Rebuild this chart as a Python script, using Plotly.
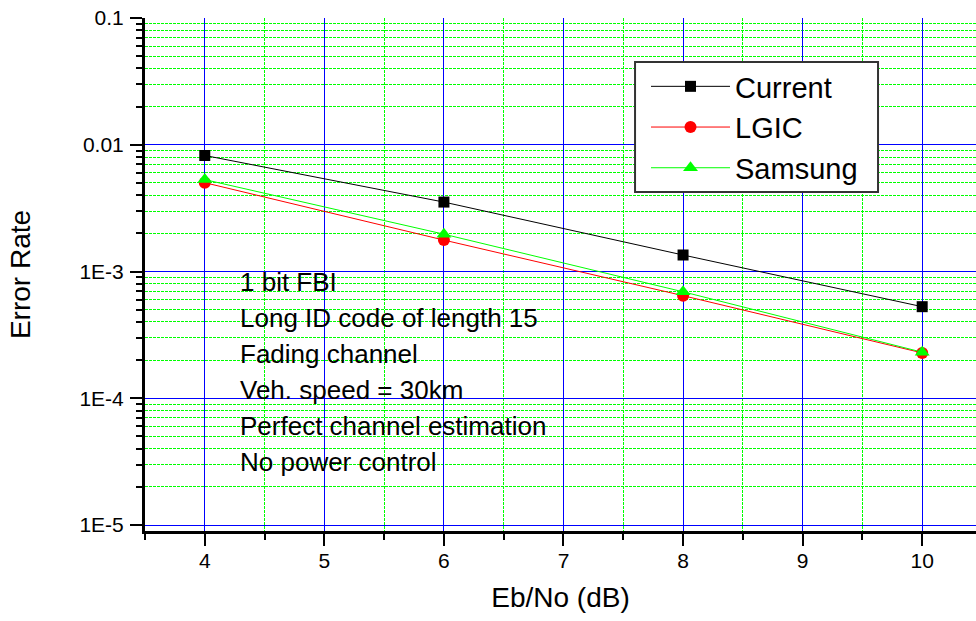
import plotly.graph_objects as go

# ---- data ----
eb_no = [4, 6, 8, 10]
current = [0.00823, 0.00353, 0.00135, 0.000528]
lgic = [0.00502, 0.00177, 0.000645, 0.000228]
samsung = [0.00531, 0.00197, 0.000692, 0.000231]

x_ticks = [4, 5, 6, 7, 8, 9, 10]
y_ticks = [1e-5, 1e-4, 1e-3, 1e-2, 1e-1]
y_ticktext = ["1E-5", "1E-4", "1E-3", "0.01", "0.1"]
note_lines = ["1 bit FBI", "Long ID code of length 15", "Fading channel",
              "Veh. speed = 30km", "Perfect channel estimation", "No power control"]

FONT = "Arial, Liberation Sans, sans-serif"
MINOR_DASH = "3px,1px"

y_minor = [m * 10.0 ** e for e in range(-5, -1) for m in range(2, 10)]
x_minor = [3.5 + i for i in range(7)]

fig = go.Figure()
fig.add_trace(go.Scatter(x=eb_no, y=current, name="Current", mode="lines+markers",
                         line=dict(color="black", width=1),
                         marker=dict(symbol="square", size=11, color="black")))
fig.add_trace(go.Scatter(x=eb_no, y=lgic, name="LGIC", mode="lines+markers",
                         line=dict(color="#ff0000", width=1),
                         marker=dict(symbol="circle", size=12, color="#ff0000")))
fig.add_trace(go.Scatter(x=eb_no, y=samsung, name="Samsung", mode="lines+markers",
                         line=dict(color="#00ff00", width=1),
                         marker=dict(symbol="triangle-up", size=13, color="#00ff00")))

common_x = dict(range=[3.5, 10.45], tickmode="array", tickvals=x_ticks,
                zeroline=False, showline=True, linecolor="black", linewidth=3,
                tickcolor="black", tickwidth=2, automargin=False)

fig.update_layout(
    width=976, height=621,
    margin=dict(l=145, r=0, t=18, b=90, autoexpand=False),
    paper_bgcolor="white", plot_bgcolor="white",
    font=dict(family=FONT, color="black"),
    xaxis=dict(**common_x, ticks="outside", ticklen=12,
               showgrid=True, gridcolor="#0000ff", gridwidth=1,
               tickfont=dict(size=21), ticklabelstandoff=-3,
               title=dict(text="Eb/No (dB)", font=dict(size=28), standoff=17),
               minor=dict(tickmode="array", tickvals=x_minor, ticks="outside", ticklen=6,
                          tickwidth=2, tickcolor="black",
                          showgrid=True, gridcolor="#00ff00", griddash=MINOR_DASH, gridwidth=1)),
    xaxis2=dict(**common_x, overlaying="x", side="top", anchor="y", matches="x",
                ticks="inside", ticklen=12, showgrid=False, showticklabels=False,
                minor=dict(tickmode="array", tickvals=x_minor, ticks="inside", ticklen=6,
                           tickwidth=2, tickcolor="black", showgrid=False)),
    yaxis=dict(type="log", range=[-5.047, -1], tickmode="array", tickvals=y_ticks,
               ticktext=y_ticktext, ticks="outside", ticklen=12, tickwidth=2, tickcolor="black",
               showline=True, linecolor="black", linewidth=3, zeroline=False,
               showgrid=True, gridcolor="#0000ff", gridwidth=1, automargin=False,
               tickfont=dict(size=21), ticklabelstandoff=2,
               title=dict(text="Error Rate", font=dict(size=28), standoff=41),
               minor=dict(tickmode="array", tickvals=y_minor, ticks="outside", ticklen=6,
                          tickwidth=2, tickcolor="black",
                          showgrid=True, gridcolor="#00ff00", griddash=MINOR_DASH, gridwidth=1)),
    yaxis2=dict(type="log", overlaying="y", side="right", anchor="x", matches="y",
                range=[-5.047, -1], tickmode="array", tickvals=y_ticks, automargin=False,
                ticks="inside", ticklen=6, tickwidth=2, tickcolor="black",
                showline=False, showgrid=False, showticklabels=False, zeroline=False),
    legend=dict(x=0.6029, y=0.9162, xanchor="left", yanchor="top",
                bgcolor="rgba(0,0,0,0)", borderwidth=0,
                font=dict(size=29, family=FONT), itemwidth=79, tracegroupgap=0),
    showlegend=True,
)

# legend frame
fig.add_shape(type="rect", xref="paper", yref="paper",
              x0=0.5897, x1=0.8821, y0=0.6608, y1=0.9142,
              line=dict(color="#333333", width=2), fillcolor="white", layer="above")

y0 = 0.482 + 2 / 513
step = 36 / 513
for i, line in enumerate(note_lines):
    fig.add_annotation(text=line, xref="paper", yref="paper", x=0.112, y=y0 - i * step,
                       xanchor="left", yanchor="middle", showarrow=False,
                       font=dict(size=26, family=FONT, color="black"))

fig.write_html("out.html", config={"displayModeBar": False},
               post_script="document.body.style.margin='0';")
